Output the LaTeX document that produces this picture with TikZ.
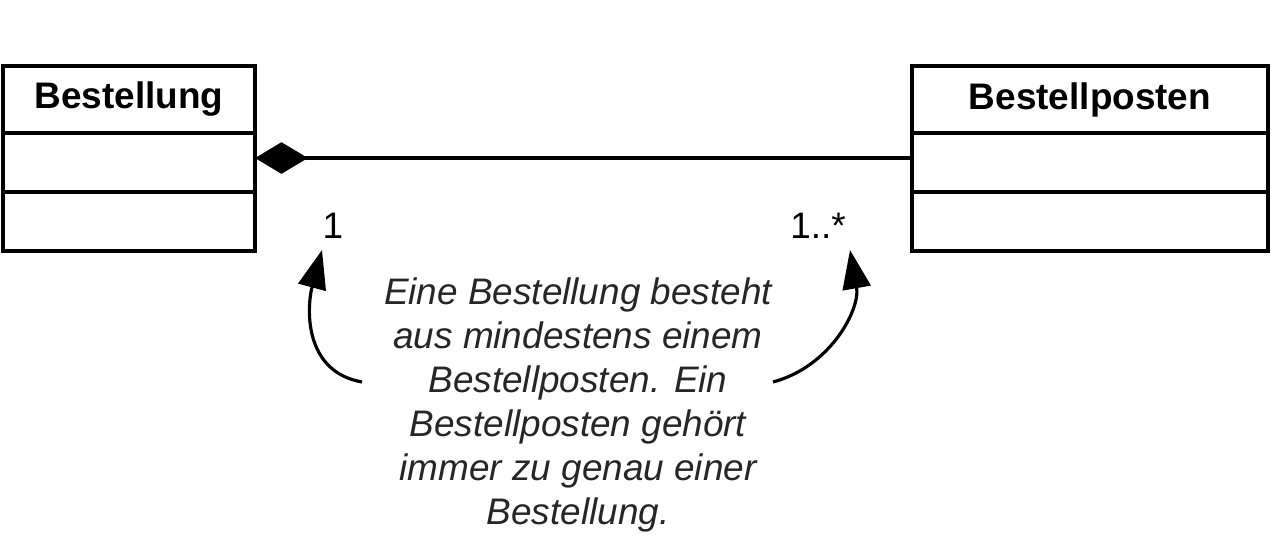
\documentclass[tikz,border=0pt]{standalone}
\usepackage{fontspec}
\setmainfont{Liberation Sans}
\usetikzlibrary{arrows.meta, positioning}

\begin{document}
\begin{tikzpicture}[x=0.01cm, y=0.01cm,
    classname/.style={rectangle, draw=black, line width=1pt, outer sep=0pt, minimum height=0.67cm, font=\fontsize{10.5}{12.5}\selectfont\bfseries},
    compartment/.style={rectangle, draw=black, line width=1pt, outer sep=0pt, minimum height=0.59cm},
    mult/.style={font=\fontsize{10.5}{12.5}\selectfont, inner sep=0pt},
    note/.style={align=center, font=\fontsize{10.5}{12.5}\selectfont\itshape, text=black!85},
    composition/.style={line width=0.9pt, {Diamond[length=15pt, width=9pt]}-},
    pointer/.style={line width=0.9pt, -{Triangle[length=11pt, width=8pt]}}
]
    \useasboundingbox (0,0) rectangle (1276,539);

    % Klassen
    \node [classname, minimum width=2.52cm] (order) at (129, 439.5) {Bestellung};
    \node [compartment, minimum width=2.52cm, below=0pt of order] (orderattr) {};
    \node [compartment, minimum width=2.52cm, below=0pt of orderattr] (orderops) {};

    \node [classname, minimum width=3.56cm] (item) at (1090, 439.5) {Bestellposten};
    \node [compartment, minimum width=3.56cm, below=0pt of item] (itemattr) {};
    \node [compartment, minimum width=3.56cm, below=0pt of itemattr] (itemops) {};

    \draw [composition] ([yshift=0.045cm]orderattr.east) -- ([yshift=0.045cm]itemattr.west);

    % Multiplizitaeten
    \node [mult] (one) at (333, 313) {1};
    \node [mult] (many) at (818, 313) {1..*};

    % Kommentar
    \node [note] (comment) at (578, 134) {Eine Bestellung besteht\\aus mindestens einem\\Bestellposten. Ein\\Bestellposten gehört\\immer zu genau einer\\Bestellung.};
    \coordinate (tailL) at (362, 157);
    \coordinate (tipL) at (322, 289);
    \coordinate (tailR) at (773, 157);
    \coordinate (tipR) at (850, 289);
    \draw [pointer] (tailL) to[out=170, in=-105, looseness=1.1] (tipL);
    \draw [pointer] (tailR) to[out=15, in=-80] (tipR);
\end{tikzpicture}
\end{document}
